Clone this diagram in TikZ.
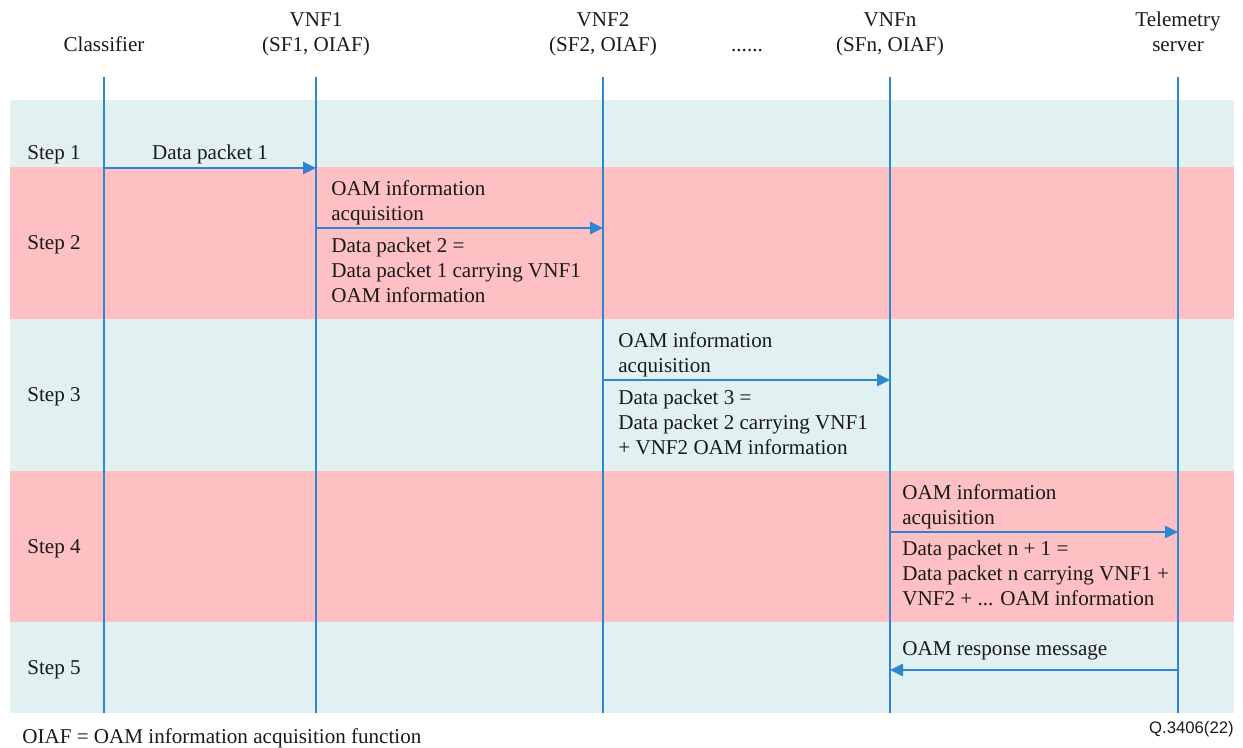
\documentclass[tikz,border=0pt]{standalone}
\usepackage{fontspec}
\setmainfont{Liberation Serif}
\newfontfamily\figsans{Liberation Sans}
\usetikzlibrary{arrows.meta}
\definecolor{bandc}{HTML}{E1F1F2}
\definecolor{bandp}{HTML}{FEC0C2}
\definecolor{life}{HTML}{2F86D0}
\definecolor{txt}{HTML}{1A1A1A}
\tikzset{
  lifeline/.style={draw=life, line width=0.9pt},
  msg/.style={draw=life, line width=0.9pt, -{Triangle[length=2.6mm,width=2.5mm]}},
  lab/.style={text=txt, font=\fontsize{12}{14.2}\selectfont, inner sep=0pt},
  labl/.style={lab, anchor=base west, align=left},
  head/.style={lab, anchor=base, align=center},
}
\begin{document}
\begin{tikzpicture}[x=0.2mm,y=-0.2mm]
  \useasboundingbox (0,0) rectangle (1243,747);

  % step bands
  \fill[bandc] (10,100) rectangle (1234,167);
  \fill[bandp] (10,167) rectangle (1234,319);
  \fill[bandc] (10,319) rectangle (1234,471);
  \fill[bandp] (10,471) rectangle (1234,622);
  \fill[bandc] (10,622) rectangle (1234,713);

  % headers (base = last line)
  \node[head] (cls) at (104,51) {Classifier};
  \node[head] (vnf1) at (316,51) {VNF1\\(SF1, OIAF)};
  \node[head] (vnf2) at (603,51) {VNF2\\(SF2, OIAF)};
  \node[head] (dots) at (747,51) {......};
  \node[head] (vnfn) at (890,51) {VNFn\\(SFn, OIAF)};
  \node[head] (tel) at (1178,51) {Telemetry\\server};

  % lifelines
  \foreach \n/\x in {c/104, a/316, b/603, n/890, t/1178} {
    \coordinate (\n top) at (\x,77);
    \coordinate (\n bot) at (\x,713);
    \draw[lifeline] (\n top) -- (\n bot);
  }

  % steps
  \node[labl] (s1) at (27,159) {Step 1};
  \node[labl] (s2) at (27,249) {Step 2};
  \node[labl] (s3) at (27,401) {Step 3};
  \node[labl] (s4) at (27,553) {Step 4};
  \node[labl] (s5) at (27,674) {Step 5};

  % messages
  \coordinate (m1s) at (104,168);  \coordinate (m1e) at (316,168);
  \coordinate (m2s) at (316,228);  \coordinate (m2e) at (603,228);
  \coordinate (m3s) at (603,380);  \coordinate (m3e) at (890,380);
  \coordinate (m4s) at (890,532);  \coordinate (m4e) at (1178,532);
  \coordinate (m5s) at (1178,670); \coordinate (m5e) at (890,670);
  \draw[msg] (m1s) -- (m1e);
  \draw[msg] (m2s) -- (m2e);
  \draw[msg] (m3s) -- (m3e);
  \draw[msg] (m4s) -- (m4e);
  \draw[msg] (m5s) -- (m5e);

  \node[lab, anchor=base] (t1) at (210,159) {Data packet 1};
  \node[labl] (t2a) at (331,220) {OAM information\\acquisition};
  \node[labl] (t2b) at (331,302) {Data packet 2 =\\Data packet 1 carrying VNF1\\OAM information};
  \node[labl] (t3a) at (618,372) {OAM information\\acquisition};
  \node[labl] (t3b) at (618,454) {Data packet 3 =\\Data packet 2 carrying VNF1\\+ VNF2 OAM information};
  \node[labl] (t4a) at (902,524) {OAM information\\acquisition};
  \node[labl] (t4b) at (902,605) {Data packet n + 1 =\\Data packet n carrying VNF1 +\\VNF2 + ... OAM information};
  \node[labl] (t5) at (902,655) {OAM response message};

  % footer
  \node[labl] (note) at (22,743) {OIAF = OAM information acquisition function};
  \node[lab, anchor=base east, font=\figsans\fontsize{9.5}{11}\selectfont] (ref) at (1234,733) {Q.3406(22)};
\end{tikzpicture}
\end{document}
